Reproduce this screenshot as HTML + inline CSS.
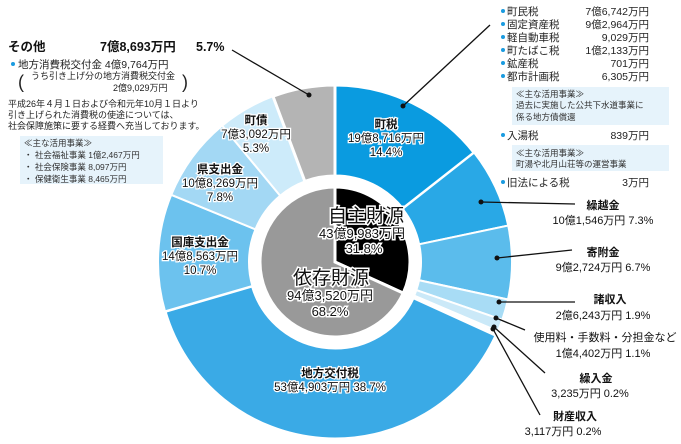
<!DOCTYPE html>
<html><head><meta charset="utf-8">
<style>
body{margin:0;background:#fff;}
svg{display:block;font-family:"Liberation Sans","Noto Sans CJK JP",sans-serif;}
</style></head>
<body>
<svg id="s" width="681" height="444" viewBox="0 0 681 444" xmlns="http://www.w3.org/2000/svg">
<g id="pie"></g>
<text x="8" y="51" font-size="12.5" font-weight="bold" fill="#111">その他</text>
<text x="100" y="51" font-size="12.5" font-weight="bold" fill="#111">7億8,693万円</text>
<text x="196" y="51" font-size="12.5" font-weight="bold" fill="#111">5.7%</text>
<circle cx="13" cy="64" r="2" fill="#1a9be0"/>
<text x="18" y="68" font-size="10.5" fill="#222">地方消費税交付金  4億9,764万円</text>
<text x="18" y="88" font-size="18" fill="#222">(</text>
<text x="182" y="88" font-size="18" fill="#222">)</text>
<text x="31" y="79" font-size="9" fill="#222">うち引き上げ分の地方消費税交付金</text>
<text x="113" y="91" font-size="9" fill="#222">2億9,029万円</text>
<text x="8" y="107" font-size="9" fill="#222">平成26年４月１日および令和元年10月１日より</text>
<text x="8" y="118" font-size="9" fill="#222">引き上げられた消費税の使途については、</text>
<text x="8" y="129" font-size="9" fill="#222">社会保障施策に要する経費へ充当しております。</text>
<rect x="20" y="136" width="143" height="48" fill="#e6f3fb"/>
<text x="24" y="146" font-size="8.5" fill="#333">≪主な活用事業≫</text>
<text x="24" y="158" font-size="8.5" fill="#333">・ 社会福祉事業    1億2,467万円</text>
<text x="24" y="170" font-size="8.5" fill="#333">・ 社会保険事業    8,097万円</text>
<text x="24" y="182" font-size="8.5" fill="#333">・ 保健衛生事業    8,465万円</text>
<g font-size="10.5" fill="#222">
<text x="507" y="15">町民税</text><text x="649" y="15" text-anchor="end">7億6,742万円</text>
<text x="507" y="28">固定資産税</text><text x="649" y="28" text-anchor="end">9億2,964万円</text>
<text x="507" y="41">軽自動車税</text><text x="649" y="41" text-anchor="end">9,029万円</text>
<text x="507" y="54">町たばこ税</text><text x="649" y="54" text-anchor="end">1億2,133万円</text>
<text x="507" y="67">鉱産税</text><text x="649" y="67" text-anchor="end">701万円</text>
<text x="507" y="80">都市計画税</text><text x="649" y="80" text-anchor="end">6,305万円</text>
<text x="507" y="139">入湯税</text><text x="649" y="139" text-anchor="end">839万円</text>
<text x="507" y="186">旧法による税</text><text x="649" y="186" text-anchor="end">3万円</text>
</g>
<g fill="#1a9be0">
<circle cx="503" cy="11" r="2"/><circle cx="503" cy="24" r="2"/><circle cx="503" cy="37" r="2"/><circle cx="503" cy="50" r="2"/><circle cx="503" cy="63" r="2"/><circle cx="503" cy="76" r="2"/><circle cx="503" cy="135" r="2"/><circle cx="503" cy="182" r="2"/>
</g>
<rect x="512" y="87" width="157" height="38" fill="#e6f3fb"/>
<text x="516" y="97" font-size="8.5" fill="#333">≪主な活用事業≫</text>
<text x="516" y="108" font-size="8.5" fill="#333">過去に実施した公共下水道事業に</text>
<text x="516" y="120" font-size="8.5" fill="#333">係る地方債償還</text>
<rect x="512" y="145" width="157" height="26" fill="#e6f3fb"/>
<text x="516" y="156" font-size="8.5" fill="#333">≪主な活用事業≫</text>
<text x="516" y="167" font-size="8.5" fill="#333">町湯や北月山荘等の運営事業</text>
<g stroke="#111" stroke-width="1.3" fill="none">
<line x1="403" y1="106" x2="490" y2="25"/>
<line x1="309" y1="95" x2="232" y2="50"/>
<line x1="481" y1="202" x2="575" y2="204"/>
<line x1="497" y1="258" x2="572" y2="250"/>
<line x1="499" y1="302" x2="575" y2="302"/>
<line x1="496" y1="318" x2="525" y2="330"/>
<line x1="494" y1="327" x2="545" y2="373"/>
<line x1="493" y1="329" x2="540" y2="415"/>
</g>
<g fill="#111">
<circle cx="403" cy="106" r="2.5"/><circle cx="309" cy="95" r="2.5"/><circle cx="481" cy="202" r="2.5"/><circle cx="497" cy="258" r="2.5"/><circle cx="499" cy="302" r="2.5"/><circle cx="496" cy="318" r="2.5"/><circle cx="494" cy="327" r="2.5"/><circle cx="493" cy="329" r="2.5"/>
</g>
<g font-size="11" fill="#111" text-anchor="middle">
<text x="603" y="209" font-weight="bold">繰越金</text><text x="603" y="224">10億1,546万円 7.3%</text>
<text x="603" y="256" font-weight="bold">寄附金</text><text x="603" y="271">9億2,724万円 6.7%</text>
<text x="610" y="303" font-weight="bold">諸収入</text><text x="603" y="319">2億6,243万円 1.9%</text>
<text x="605" y="341">使用料・手数料・分担金など</text><text x="603" y="357">1億4,402万円 1.1%</text>
<text x="596" y="382" font-weight="bold">繰入金</text><text x="590" y="397">3,235万円 0.2%</text>
<text x="575" y="420" font-weight="bold">財産収入</text><text x="563" y="435">3,117万円 0.2%</text>
</g>
<g font-size="11.5" fill="#111" text-anchor="middle" stroke="#fff" stroke-width="2.5" paint-order="stroke">
<text x="386" y="128" font-weight="bold">町税</text><text x="386" y="142">19億8,716万円</text><text x="386" y="156">14.4%</text>
<text x="256" y="124" font-weight="bold">町債</text><text x="256" y="138">7億3,092万円</text><text x="256" y="152">5.3%</text>
<text x="220" y="173" font-weight="bold">県支出金</text><text x="220" y="187">10億8,269万円</text><text x="220" y="201">7.8%</text>
<text x="200" y="246" font-weight="bold">国庫支出金</text><text x="200" y="260">14億8,563万円</text><text x="200" y="274">10.7%</text>
<text x="330" y="377" font-weight="bold">地方交付税</text><text x="330" y="391">53億4,903万円  38.7%</text>
</g>
<g fill="#111" text-anchor="middle" stroke="#fff" stroke-width="3" paint-order="stroke">
<text x="366" y="222" font-size="19">自主財源</text>
<text x="362" y="238" font-size="13">43億9,983万円</text>
<text x="364" y="253" font-size="13">31.8%</text>
<text x="331" y="284" font-size="19">依存財源</text>
<text x="330" y="300" font-size="13">94億3,520万円</text>
<text x="330" y="316" font-size="13">68.2%</text>
</g>
</svg>
<script>
(function(){
var cx=335,cy=262,R=177,r0=86,ri=75;
var ns="http://www.w3.org/2000/svg",g=document.getElementById('pie');
function pt(r,a){a=(a-90)*Math.PI/180;return [cx+r*Math.cos(a),cy+r*Math.sin(a)];}
function ring(a0,a1,ro,rn,col,sw){
 var p1=pt(ro,a0),p2=pt(ro,a1),p3=pt(rn,a1),p4=pt(rn,a0),l=(a1-a0)>180?1:0,d;
 if(rn>0)d="M"+p1+"A"+ro+","+ro+" 0 "+l+" 1 "+p2+"L"+p3+"A"+rn+","+rn+" 0 "+l+" 0 "+p4+"Z";
 else d="M"+cx+","+cy+"L"+p1+"A"+ro+","+ro+" 0 "+l+" 1 "+p2+"Z";
 var e=document.createElementNS(ns,'path');e.setAttribute('d',d);e.setAttribute('fill',col);
 e.setAttribute('stroke','#fff');e.setAttribute('stroke-width',sw||'2');g.appendChild(e);}
var s=[[14.4,'#0a9be0'],[7.3,'#29a8e6'],[6.7,'#5bbcec'],[1.9,'#a8dcf5'],[1.1,'#cbe9f8'],[0.2,'#7cc8ef'],[0.2,'#2a8fd0'],
[38.7,'#3aaae6'],[10.7,'#6cc2ee'],[7.8,'#a3d8f4'],[5.3,'#cdebfa'],[5.7,'#b4b4b4']];
var a=0;s.forEach(function(x,i){var b=a+x[0]*3.6;ring(a,b,R,r0,x[1],(i==0||i==11||i==7)?'3':'2');a=b;});
ring(0,31.8*3.6,ri,0,'#000','3');ring(31.8*3.6,360,ri,0,'#999','3');
})();
</script>
</body></html>
